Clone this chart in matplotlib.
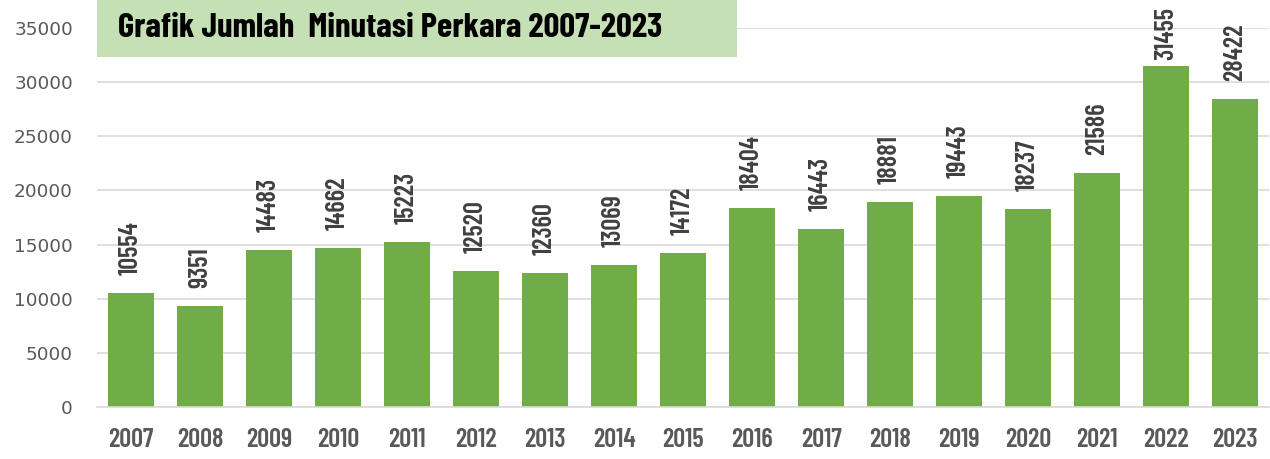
import matplotlib

matplotlib.use("Agg")
import matplotlib.pyplot as plt  # noqa: E402
from matplotlib.patches import Rectangle  # noqa: E402

years = ["2007", "2008", "2009", "2010", "2011", "2012", "2013", "2014", "2015",
         "2016", "2017", "2018", "2019", "2020", "2021", "2022", "2023"]
minutasi = [10554, 9351, 14483, 14662, 15223, 12520, 12360, 13069, 14172,
            18404, 16443, 18881, 19443, 18237, 21586, 31455, 28422]
yticks = [0, 5000, 10000, 15000, 20000, 25000, 30000, 35000]
title = "Grafik Jumlah  Minutasi Perkara 2007-2023"

cond = ["Barlow Condensed", "DejaVu Sans"]
green = "#70AD47"

fig = plt.figure(figsize=(12.7, 4.59), dpi=100)
ax = fig.add_axes([0.076, 0.1133, 0.9236, 0.826])

x = range(len(years))
ax.bar(x, minutasi, width=0.67, color=green, zorder=2)
for xi, v in zip(x, minutasi):
    # tallest bar: label pushed closer so it stays inside the figure
    pad = 13 if v < 30000 else 4.5
    ax.annotate(str(v), (xi, v), xytext=(0, pad), textcoords="offset points",
                rotation=90, ha="center", va="bottom", fontsize=19,
                fontweight="semibold", color="#404040", family=cond,
                annotation_clip=False, zorder=3)

ax.set_xlim(-0.5, len(years) - 0.5)
ax.set_ylim(0, 35000)
ax.set_yticks(yticks)
ax.set_yticklabels([str(t) for t in yticks], fontsize=13.3, color="#595959",
                   family=["DejaVu Sans"])
ax.set_xticks(list(x))
ax.set_xticklabels(years, fontsize=19, fontweight="semibold", color="#595959",
                   family=cond)
ax.tick_params(axis="both", length=0)
ax.tick_params(axis="x", pad=15)
ax.tick_params(axis="y", pad=17)
ax.grid(axis="y", color="#D9D9D9", linewidth=1.2, zorder=0)
for side in ["top", "right", "left"]:
    ax.spines[side].set_visible(False)
ax.spines["bottom"].set_color("#D9D9D9")
ax.spines["bottom"].set_linewidth(1.2)

# title box
fig.patches.append(Rectangle((97 / 1270, 1 - 57 / 459), 640 / 1270, 57 / 459,
                             transform=fig.transFigure, facecolor="#C5E0B4",
                             edgecolor="none", zorder=5))
fig.text(118 / 1270, 1 - 28 / 459, title, fontsize=25, fontweight="bold",
         color="black", family=cond, va="center", ha="left", zorder=6)

fig.savefig("out.png", dpi=100)
